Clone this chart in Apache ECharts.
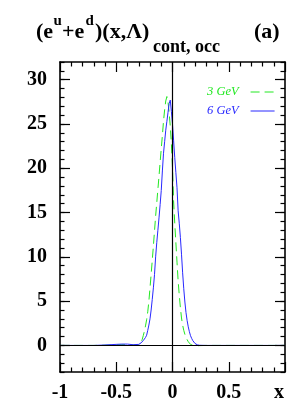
<!DOCTYPE html>
<html>
<head>
<meta charset="utf-8">
<script src="https://cdn.jsdelivr.net/npm/echarts@6/dist/echarts.min.js"></script>
<style>html,body{margin:0;padding:0;background:#fff}#c{width:294px;height:413px}</style>
</head>
<body>
<div id="c"></div>
<script>
// x positions (shared by both curves)
const xs = [-1, -0.9, -0.8, -0.7, -0.6, -0.5, -0.45, -0.4, -0.35,
  -0.30, -0.29, -0.28, -0.27, -0.26, -0.25, -0.24, -0.23, -0.22, -0.21,
  -0.20, -0.19, -0.18, -0.17, -0.16, -0.15, -0.14, -0.13, -0.12, -0.11,
  -0.10, -0.09, -0.08, -0.07, -0.06, -0.05, -0.04, -0.03, -0.02, -0.01,
  0.00, 0.01, 0.02, 0.03, 0.04, 0.05, 0.06, 0.07, 0.08, 0.09,
  0.10, 0.11, 0.12, 0.13, 0.14, 0.15, 0.16, 0.17, 0.18, 0.19,
  0.20, 0.22, 0.24, 0.3, 0.4, 0.5, 0.6, 0.7, 0.8, 0.9, 1.0];
// 3 GeV (green dashed)
const y3 = [0, 0, 0, 0, 0.02, 0.06, 0.08, 0.08, 0.05,
  0.05, 0.12, 0.3, 0.65, 1.1, 1.6, 2.2, 2.9, 3.8, 5.0,
  6.5, 8.0, 9.6, 11.2, 12.9, 14.6, 16.1, 17.6, 19.1, 20.7,
  22.2, 23.7, 25.3, 26.6, 27.6, 28.1, 27.5, 26.3, 24.8, 22.8,
  20.0, 16.2, 13.8, 11.6, 9.4, 7.3, 5.7, 4.3, 3.1, 2.3,
  1.7, 1.25, 0.95, 0.65, 0.42, 0.25, 0.12, 0.05, 0.0, -0.03,
  -0.05, -0.04, -0.02, 0, 0, 0, 0, 0, 0, 0, 0];
// 6 GeV (blue solid)
const y6 = [0, 0, 0, 0, 0.05, 0.12, 0.15, 0.15, 0.08,
  0.12, 0.18, 0.28, 0.4, 0.55, 0.72, 0.9, 1.15, 1.7, 2.3,
  3.0, 4.0, 5.2, 6.5, 8.0, 10.0, 11.6, 13.0, 14.4, 15.9,
  17.5, 19.7, 21.7, 23.0, 24.3, 25.3, 26.3, 27.3, 27.7, 26.4,
  25.0, 23.1, 21.2, 19.5, 17.8, 15.2, 13.8, 12.2, 10.3, 8.2,
  6.4, 4.9, 3.7, 2.8, 2.1, 1.55, 1.1, 0.8, 0.55, 0.35,
  0.22, 0.07, 0.02, 0, 0, 0, 0, 0, 0, 0, 0];
const seriesNames = ['3 GeV', '6 GeV'];
const yMajorTicks = [0, 5, 10, 15, 20, 25, 30];
const xTickLabels = {'-1': '-1', '-0.5': '-0.5', '0': '0', '0.5': '0.5', '1': 'x'};

const GREEN = '#22e822', BLUE = '#2828ff';
const SERIF = '"Liberation Serif", "DejaVu Serif", serif';
const pair = ys => xs.map((x, i) => [x, ys[i]]);

const frame = {show: true, onZero: false, lineStyle: {color: '#000', width: 1.6}};
const xBase = {
  type: 'value', min: -1, max: 1, interval: 0.5,
  axisLine: frame, splitLine: {show: false},
  axisTick: {show: true, inside: true, length: 10, lineStyle: {color: '#000', width: 1.2}},
  minorTick: {show: true, splitNumber: 5, length: 4.5, lineStyle: {color: '#000', width: 1.2}}
};
const yMajor = (pos, labels) => ({
  type: 'value', min: -3, max: 32, position: pos,
  axisLine: frame, splitLine: {show: false},
  axisTick: {show: true, inside: true, length: 10, customValues: yMajorTicks, lineStyle: {color: '#000', width: 1.2}},
  axisLabel: labels ? {show: true, customValues: yMajorTicks, margin: 13,
    fontFamily: SERIF, fontWeight: 'bold', fontSize: 20, color: '#000'} : {show: false}
});
const yMinor = pos => ({
  type: 'value', min: -3, max: 32, interval: 1, position: pos,
  axisLine: {show: false, onZero: false}, splitLine: {show: false}, axisLabel: {show: false},
  axisTick: {show: true, inside: true, length: 4.5, lineStyle: {color: '#000', width: 1.2}}
});

const chart = echarts.init(document.getElementById('c'), null, {renderer: 'canvas'});
chart.setOption({
  animation: false,
  backgroundColor: '#fff',
  grid: {left: 60, right: 9, top: 62, bottom: 41},
  xAxis: [
    Object.assign({}, xBase, {position: 'bottom', axisLabel: {
      show: true, margin: 11, fontFamily: SERIF, fontWeight: 'bold', fontSize: 20, color: '#000',
      formatter: v => { const s = xTickLabels[String(v)]; return s === 'x' ? '{x|x}' : (s || ''); },
      rich: {x: {fontFamily: SERIF, fontWeight: 'bold', fontSize: 20, color: '#000', padding: [0, 12, 0, 0]}}
    }}),
    Object.assign({}, xBase, {position: 'top', axisLabel: {show: false}})
  ],
  yAxis: [yMajor('left', true), yMinor('left'), yMajor('right', false), yMinor('right')],
  legend: {
    orient: 'vertical', left: 207, top: 85.5, align: 'right', padding: 0,
    itemWidth: 24, itemHeight: 14, itemGap: 6,
    itemStyle: {opacity: 0, borderWidth: 0},
    textStyle: {fontFamily: SERIF, fontStyle: 'italic', fontSize: 12.5, padding: [0, 7, 0, 0]},
    data: [
      {name: seriesNames[0], textStyle: {color: GREEN}, lineStyle: {color: GREEN, width: 1, type: [9, 5]}},
      {name: seriesNames[1], textStyle: {color: BLUE}, lineStyle: {color: BLUE, width: 1, type: 'solid'}}
    ]
  },
  series: [
    {
      name: seriesNames[0], type: 'line', data: pair(y3), symbol: 'none', smooth: false,
      xAxisIndex: 0, yAxisIndex: 0,
      lineStyle: {color: GREEN, width: 1, type: [9, 5]}, itemStyle: {color: GREEN}, z: 3,
      markLine: {
        silent: true, symbol: 'none', label: {show: false},
        lineStyle: {color: '#000', width: 1.2, type: 'solid'},
        data: [{xAxis: 0}, {yAxis: 0}]
      }
    },
    {
      name: seriesNames[1], type: 'line', data: pair(y6), symbol: 'none', smooth: false,
      xAxisIndex: 0, yAxisIndex: 0,
      lineStyle: {color: BLUE, width: 1}, itemStyle: {color: BLUE}, z: 4
    }
  ],
  graphic: [
    {type: 'text', x: 36, y: 32, style: {text: '(e', font: 'bold 22px ' + SERIF, fill: '#000', verticalAlign: 'middle'}},
    {type: 'text', x: 53.5, y: 21.6, style: {text: 'u', font: 'bold 15px ' + SERIF, fill: '#000', verticalAlign: 'middle'}},
    {type: 'text', x: 62, y: 32, style: {text: '+e', font: 'bold 22px ' + SERIF, fill: '#000', verticalAlign: 'middle'}},
    {type: 'text', x: 85.5, y: 21.6, style: {text: 'd', font: 'bold 15px ' + SERIF, fill: '#000', verticalAlign: 'middle'}},
    {type: 'text', x: 95, y: 32, style: {text: ')(x,Λ)', font: 'bold 22px ' + SERIF, fill: '#000', verticalAlign: 'middle'}},
    {type: 'text', x: 153, y: 47.5, style: {text: 'cont, occ', font: 'bold 18px ' + SERIF, fill: '#000', verticalAlign: 'middle'}},
    {type: 'text', x: 254, y: 32, style: {text: '(a)', font: 'bold 22px ' + SERIF, fill: '#000', verticalAlign: 'middle'}}
  ]
});
</script>
</body>
</html>
